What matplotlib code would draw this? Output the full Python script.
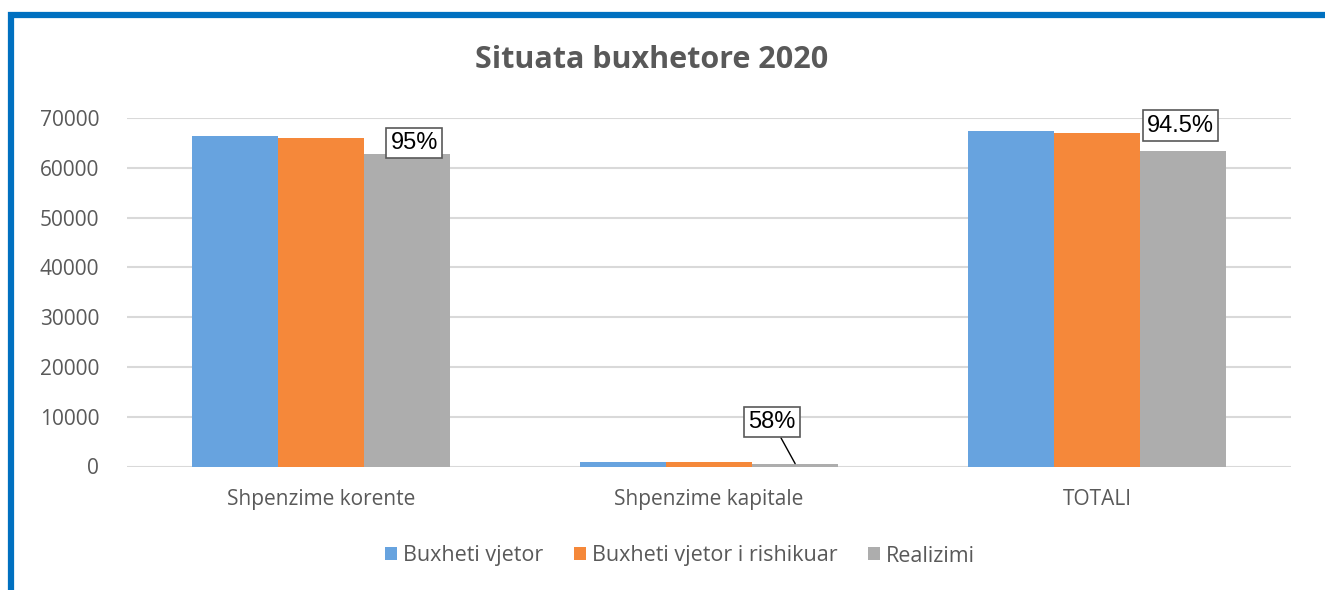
import matplotlib.pyplot as plt
import numpy as np
from matplotlib.patches import Rectangle

# Data
categories = ["Shpenzime korente", "Shpenzime kapitale", "TOTALI"]
series_names = ["Buxheti vjetor", "Buxheti vjetor i rishikuar", "Realizimi"]
buxheti_vjetor = [66400, 1000, 67400]
buxheti_rishikuar = [66000, 1000, 67000]
realizimi = [62800, 580, 63400]
realizimi_pct = ["95%", "58%", "94.5%"]

colors = ["#67A3DF", "#F5883A", "#ADADAD"]
text_gray = "#595959"

plt.rcParams["font.family"] = ["Open Sans", "DejaVu Sans"]

fig = plt.figure(figsize=(13.25, 5.9), dpi=100)
ax = fig.add_axes([127 / 1325, 1 - 466.5 / 590, 1164 / 1325, 348.5 / 590])

x = np.arange(len(categories))
w = 0.222
all_series = [buxheti_vjetor, buxheti_rishikuar, realizimi]
for i, (vals, name) in enumerate(zip(all_series, series_names)):
    ax.bar(x + (i - 1) * w, vals, width=w, color=colors[i], label=name, zorder=3)

ax.set_xlim(-0.5, 2.5)
ax.set_ylim(0, 70000)
ax.set_yticks(range(0, 70001, 10000))
ax.grid(axis="y", color="#D9D9D9", linewidth=1.5, zorder=0)
for s in ax.spines.values():
    s.set_visible(False)
ax.tick_params(length=0, labelsize=15, colors=text_gray)
ax.tick_params(axis="y", pad=20)
ax.tick_params(axis="x", pad=16)
ax.set_xticks(x)
ax.set_xticklabels(categories)

# percentage labels above the Realizimi bars
box = dict(boxstyle="square,pad=0.18", fc="white", ec="#595959", lw=1.2)
lbl = dict(fontsize=17, family=["Liberation Sans", "DejaVu Sans"], ha="center", va="center",
           bbox=box, zorder=5)
ax.annotate(realizimi_pct[0], (x[0] + w, realizimi[0]), xytext=(x[0] + w + 0.018, 64980), **lbl)
ax.annotate(realizimi_pct[2], (x[2] + w, realizimi[2]), xytext=(x[2] + w - 0.007, 68490), **lbl)
ax.annotate(realizimi_pct[1], (x[1] + w, realizimi[1]), xytext=(x[1] + w - 0.059, 8940),
            arrowprops=dict(arrowstyle="-", color="black", lw=1, shrinkA=0, shrinkB=0), **lbl)

fig.text(652 / 1325, 1 - 60 / 590, "Situata buxhetore 2020", ha="center", va="center",
         fontsize=22, fontweight="bold", color=text_gray)

fig.legend(loc="center", bbox_to_anchor=(680 / 1325, 1 - 556 / 590), ncol=3, frameon=False,
           fontsize=15.5, labelcolor=text_gray, handlelength=0.55, handleheight=0.55,
           handletextpad=0.3, columnspacing=1.4)

# blue frame (top and left edges visible)
fig.add_artist(Rectangle((11 / 1325, -0.1), 1.2, 1 - 14.5 / 590 + 0.1, transform=fig.transFigure,
                         fill=False, ec="#0070C0", lw=4.5))

fig.savefig("out.png", dpi=100)
